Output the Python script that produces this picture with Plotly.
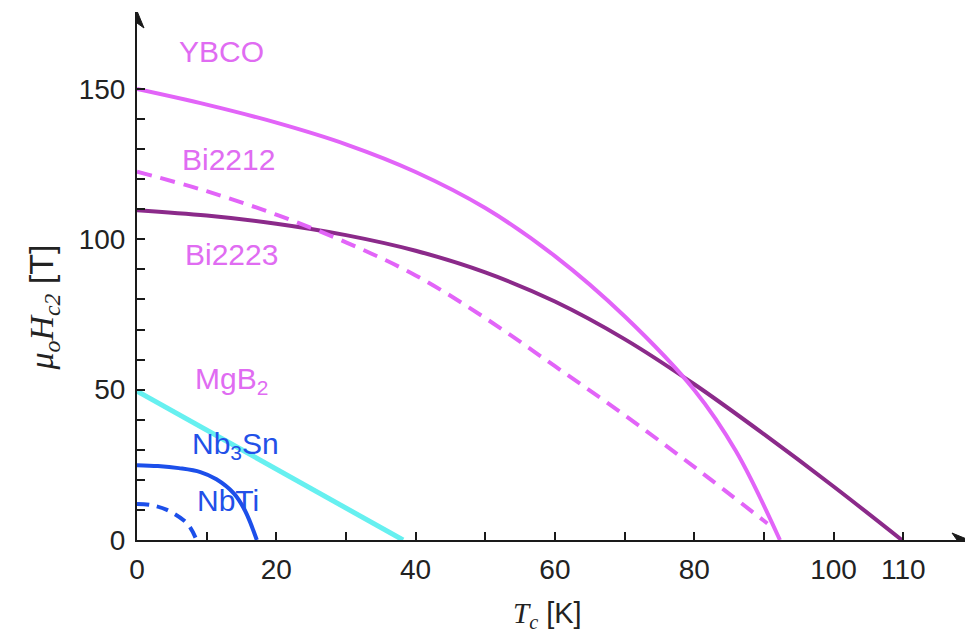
import plotly.graph_objects as go

# ---- data ----
ybco_T = [0, 10, 20, 30, 40, 50, 60, 70, 80, 86, 92.3]
ybco_H = [150, 144.8, 138.8, 131.6, 122.4, 110.4, 94.4, 74.4, 49.9, 29.5, 0]

bi2212_T = [0, 10, 20, 30, 40, 50, 60, 70, 80, 90.5]
bi2212_H = [122.5, 116.0, 108.2, 99.0, 88.0, 73.8, 57.8, 41.5, 24.3, 5.5]

bi2223_T = [0, 10, 20, 30, 40, 50, 60, 70, 80, 90, 100, 109.8]
bi2223_H = [109.7, 107.9, 105.2, 101.4, 96.2, 89.0, 79.3, 66.8, 51.8, 35.2, 17.8, 0]

mgb2_T = [0, 38.2]
mgb2_H = [49.5, 0]

nb3sn_T = [0, 3.0, 6.0, 9.1, 11.4, 13.9, 15.5, 17.2]
nb3sn_H = [24.9, 24.6, 23.9, 22.6, 20.2, 15.5, 9.8, 0]

nbti_T = [0, 2.0, 4.3, 7.2, 8.4]
nbti_H = [12.0, 11.6, 10.0, 5.5, 0.8]

x_tick_vals = [0, 20, 40, 60, 80, 100, 110]
x_tick_text = ["0", "20", "40", "60", "80", "100", "110"]
x_minor_vals = [10, 30, 50, 70, 90]
y_tick_vals = [0, 50, 100, 150]
y_tick_text = ["0", "50", "100", "150"]
y_minor_vals = [10, 20, 30, 40, 60, 70, 80, 90, 110, 120, 130, 140]

labels = ["YBCO", "Bi2212", "Bi2223", "MgB<sub>2</sub>", "Nb<sub>3</sub>Sn", "NbTi"]

# ---- styles ----
MAG = "#E264F8"
PURP = "#8B2A8A"
CYAN = "#66F0F0"
BLUE = "#1C4FEA"
LBL_MAG = "#E06CF2"
LBL_BLUE = "#2250E8"
AX = "#1a1a1a"

fig = go.Figure()

def add(x, y, color, width, dash="solid"):
    fig.add_trace(go.Scatter(x=x, y=y, mode="lines",
                             line=dict(color=color, width=width, dash=dash, shape="spline", smoothing=1.0),
                             showlegend=False, hoverinfo="skip"))

add(mgb2_T, mgb2_H, CYAN, 5)
add(bi2223_T, bi2223_H, PURP, 4)
add(bi2212_T, bi2212_H, MAG, 4, "15px,9px")
add(ybco_T, ybco_H, MAG, 4)
add(nbti_T, nbti_H, BLUE, 4, "12px,8px")
add(nb3sn_T, nb3sn_H, BLUE, 4)

XMAX = 119.3
YMAX = 175.6

label_pos = [(12.1, 162.5), (13.2, 126.7), (13.5, 94.8), (13.5, 53.0), (14.1, 31.3), (13.1, 13.0)]
label_col = [LBL_MAG, LBL_MAG, LBL_MAG, LBL_MAG, LBL_BLUE, LBL_BLUE]
annots = []
for t, (px, py), c in zip(labels, label_pos, label_col):
    annots.append(dict(x=px, y=py, xref="x", yref="y", text=t, showarrow=False,
                       font=dict(family="Liberation Sans, Arial", size=30, color=c),
                       xanchor="center", yanchor="middle"))

# axis titles
annots.append(dict(x=-0.112, y=0.44, xref="paper", yref="paper", textangle=-90, showarrow=False,
                   text='<span style="font-family:Liberation Serif"><i>μ<sub>o</sub>H<sub>c2</sub></i></span> [T]',
                   font=dict(family="Liberation Sans, Arial", size=34, color="#222"),
                   xanchor="center", yanchor="middle"))
annots.append(dict(x=0.494, y=-0.104, xref="paper", yref="paper", showarrow=False,
                   text='<span style="font-family:Liberation Serif"><i>T<sub>c</sub></i></span> [K]',
                   font=dict(family="Liberation Sans, Arial", size=29, color="#222"),
                   xanchor="center", yanchor="top"))

# axis arrowheads (pixel-sized shapes anchored at the axis ends)
shapes = [
    dict(type="path", xref="x", yref="y", xsizemode="pixel", ysizemode="pixel",
         xanchor=XMAX, yanchor=0, path="M 1 0 L -16 7 L -11 0 L -16 -7 Z",
         fillcolor=AX, line=dict(color=AX, width=1)),
    dict(type="path", xref="x", yref="y", xsizemode="pixel", ysizemode="pixel",
         xanchor=0, yanchor=YMAX, path="M 0 1 L 7 -16 L 0 -11 L -7 -16 Z",
         fillcolor=AX, line=dict(color=AX, width=1)),
]

tickfont = dict(family="Liberation Sans, Arial", size=28, color="#222")
fig.update_layout(
    width=965, height=628,
    margin=dict(l=129, r=5, t=4, b=96),
    plot_bgcolor="white", paper_bgcolor="white",
    annotations=annots, shapes=shapes,
    xaxis=dict(range=[0, XMAX], showgrid=False, zeroline=False, showline=True,
               linecolor=AX, linewidth=2, ticks="inside", ticklen=8, tickwidth=1.5,
               tickcolor=AX, tickvals=x_tick_vals, ticktext=x_tick_text,
               tickfont=tickfont, ticklabelstandoff=3,
               minor=dict(ticks="inside", ticklen=8, tickwidth=1.5, tickcolor=AX,
                          tickvals=x_minor_vals, showgrid=False)),
    yaxis=dict(range=[0, YMAX], showgrid=False, zeroline=False, showline=True,
               linecolor=AX, linewidth=2, ticks="inside", ticklen=8, tickwidth=1.5,
               tickcolor=AX, tickvals=y_tick_vals, ticktext=y_tick_text,
               tickfont=tickfont, ticklabelstandoff=4,
               minor=dict(ticks="inside", ticklen=8, tickwidth=1.5, tickcolor=AX,
                          tickvals=y_minor_vals, showgrid=False)),
)

fig.write_html("out.html")
